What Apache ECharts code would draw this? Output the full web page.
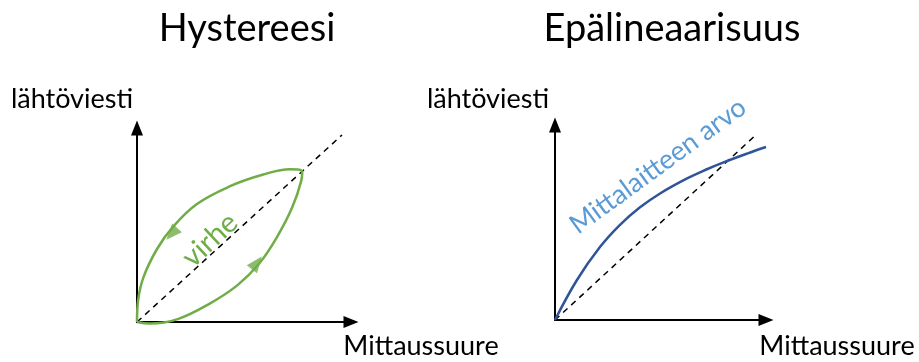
<!DOCTYPE html>
<html>
<head>
<meta charset="utf-8">
<script src="https://cdn.jsdelivr.net/npm/echarts@6/dist/echarts.min.js"></script>
<style>
  html, body { margin: 0; padding: 0; background: #fff; }
  #main { width: 919px; height: 362px; }
</style>
</head>
<body>
<div id="main"></div>
<script>
// texts
var titles = ['Hystereesi', 'Epälineaarisuus'];
var yName = 'lähtöviesti';
var xName = 'Mittaussuure';
var loopLabel = 'virhe';
var curveLabel = 'Mittalaitteen arvo';

// hysteresis loop: rising branch then falling branch (axis units 0..10)
var loopRise = [[0, 0], [0.6, -0.08], [1.9, 0.15], [3.4, 0.95], [4.7, 1.9], [5.7, 3.0],
    [6.5, 4.3], [7.25, 5.9], [7.68, 7.3], [7.72, 7.75]];
var loopFall = [[7.72, 7.75], [7.15, 7.88], [5.9, 7.6], [4.35, 7.0], [2.8, 6.08],
    [1.68, 4.9], [0.93, 3.75], [0.3, 2.3], [0.05, 1.1], [0, 0]];
var arrowRise = [[5.6, 3.05]];
var arrowFall = [[1.62, 4.55]];
var idealLeft = [[0, 0], [9.58, 9.64]];

// non-linearity
var idealRight = [[0, 0], [9.57, 9.54]];
var meterCurve = [[0, 0], [1.04, 2.05], [2.13, 3.74], [3.08, 4.88], [4.03, 5.78], [4.98, 6.49],
    [6.26, 7.26], [7.2, 7.73], [7.96, 8.07], [9.1, 8.53], [10.0, 8.87]];

var dom = document.getElementById('main');
var myChart = echarts.init(dom);

var font = 'Lato, "Open Sans", sans-serif';
var green = '#70ad47';

function axis(index) {
    return {
        type: 'value',
        gridIndex: index,
        min: 0,
        max: 10,
        axisLine: {
            show: true,
            onZero: false,
            symbol: ['none', 'triangle'],
            symbolSize: [12, 15],
            lineStyle: { color: '#000', width: 2 }
        },
        axisTick: { show: false },
        axisLabel: { show: false },
        splitLine: { show: false }
    };
}

function text(str, x, y, size, color, rot) {
    return {
        type: 'text',
        x: x,
        y: y,
        rotation: (rot || 0) * Math.PI / 180,
        style: {
            text: str,
            fill: color,
            fontSize: size,
            fontFamily: font,
            align: 'center',
            verticalAlign: 'middle'
        }
    };
}

var option = {
    backgroundColor: '#fff',
    animation: false,
    grid: [
        { left: 137, top: 128, width: 214, height: 194 },
        { left: 555, top: 125, width: 211, height: 195 }
    ],
    xAxis: [axis(0), axis(1)],
    yAxis: [axis(0), axis(1)],
    graphic: [
        text(titles[0], 247, 29, 38, '#000'),
        text(titles[1], 672, 29, 38, '#000'),
        text(yName, 72, 99, 27, '#000'),
        text(yName, 488, 99, 27, '#000'),
        text(xName, 421, 346, 27, '#000'),
        text(xName, 837, 346, 27, '#000'),
        text(loopLabel, 210, 240, 29, green, 43),
        text(curveLabel, 658, 166, 27, '#5b9bd5', 36)
    ],
    series: [
        {
            type: 'line',
            xAxisIndex: 0, yAxisIndex: 0,
            data: idealLeft,
            showSymbol: false,
            lineStyle: { color: '#000', width: 1.5, type: [6, 5] }
        },
        {
            type: 'line',
            xAxisIndex: 0, yAxisIndex: 0,
            data: loopRise.concat(loopFall.slice(1)),
            smooth: 0.4,
            clip: false,
            showSymbol: false,
            lineStyle: { color: green, width: 2.5 }
        },
        {
            type: 'scatter',
            xAxisIndex: 0, yAxisIndex: 0,
            data: arrowRise,
            symbol: 'triangle',
            symbolSize: [13, 16],
            symbolRotate: -38,
            itemStyle: { color: green }
        },
        {
            type: 'scatter',
            xAxisIndex: 0, yAxisIndex: 0,
            data: arrowFall,
            symbol: 'triangle',
            symbolSize: [13, 16],
            symbolRotate: 138,
            itemStyle: { color: green }
        },
        {
            type: 'line',
            xAxisIndex: 1, yAxisIndex: 1,
            data: idealRight,
            showSymbol: false,
            lineStyle: { color: '#000', width: 1.5, type: [6, 5] }
        },
        {
            type: 'line',
            xAxisIndex: 1, yAxisIndex: 1,
            data: meterCurve,
            smooth: 0.4,
            clip: false,
            showSymbol: false,
            lineStyle: { color: '#2f5597', width: 2.5 }
        }
    ]
};

if (option && typeof option === 'object') {
    myChart.setOption(option, true);
}
</script>
</body>
</html>
